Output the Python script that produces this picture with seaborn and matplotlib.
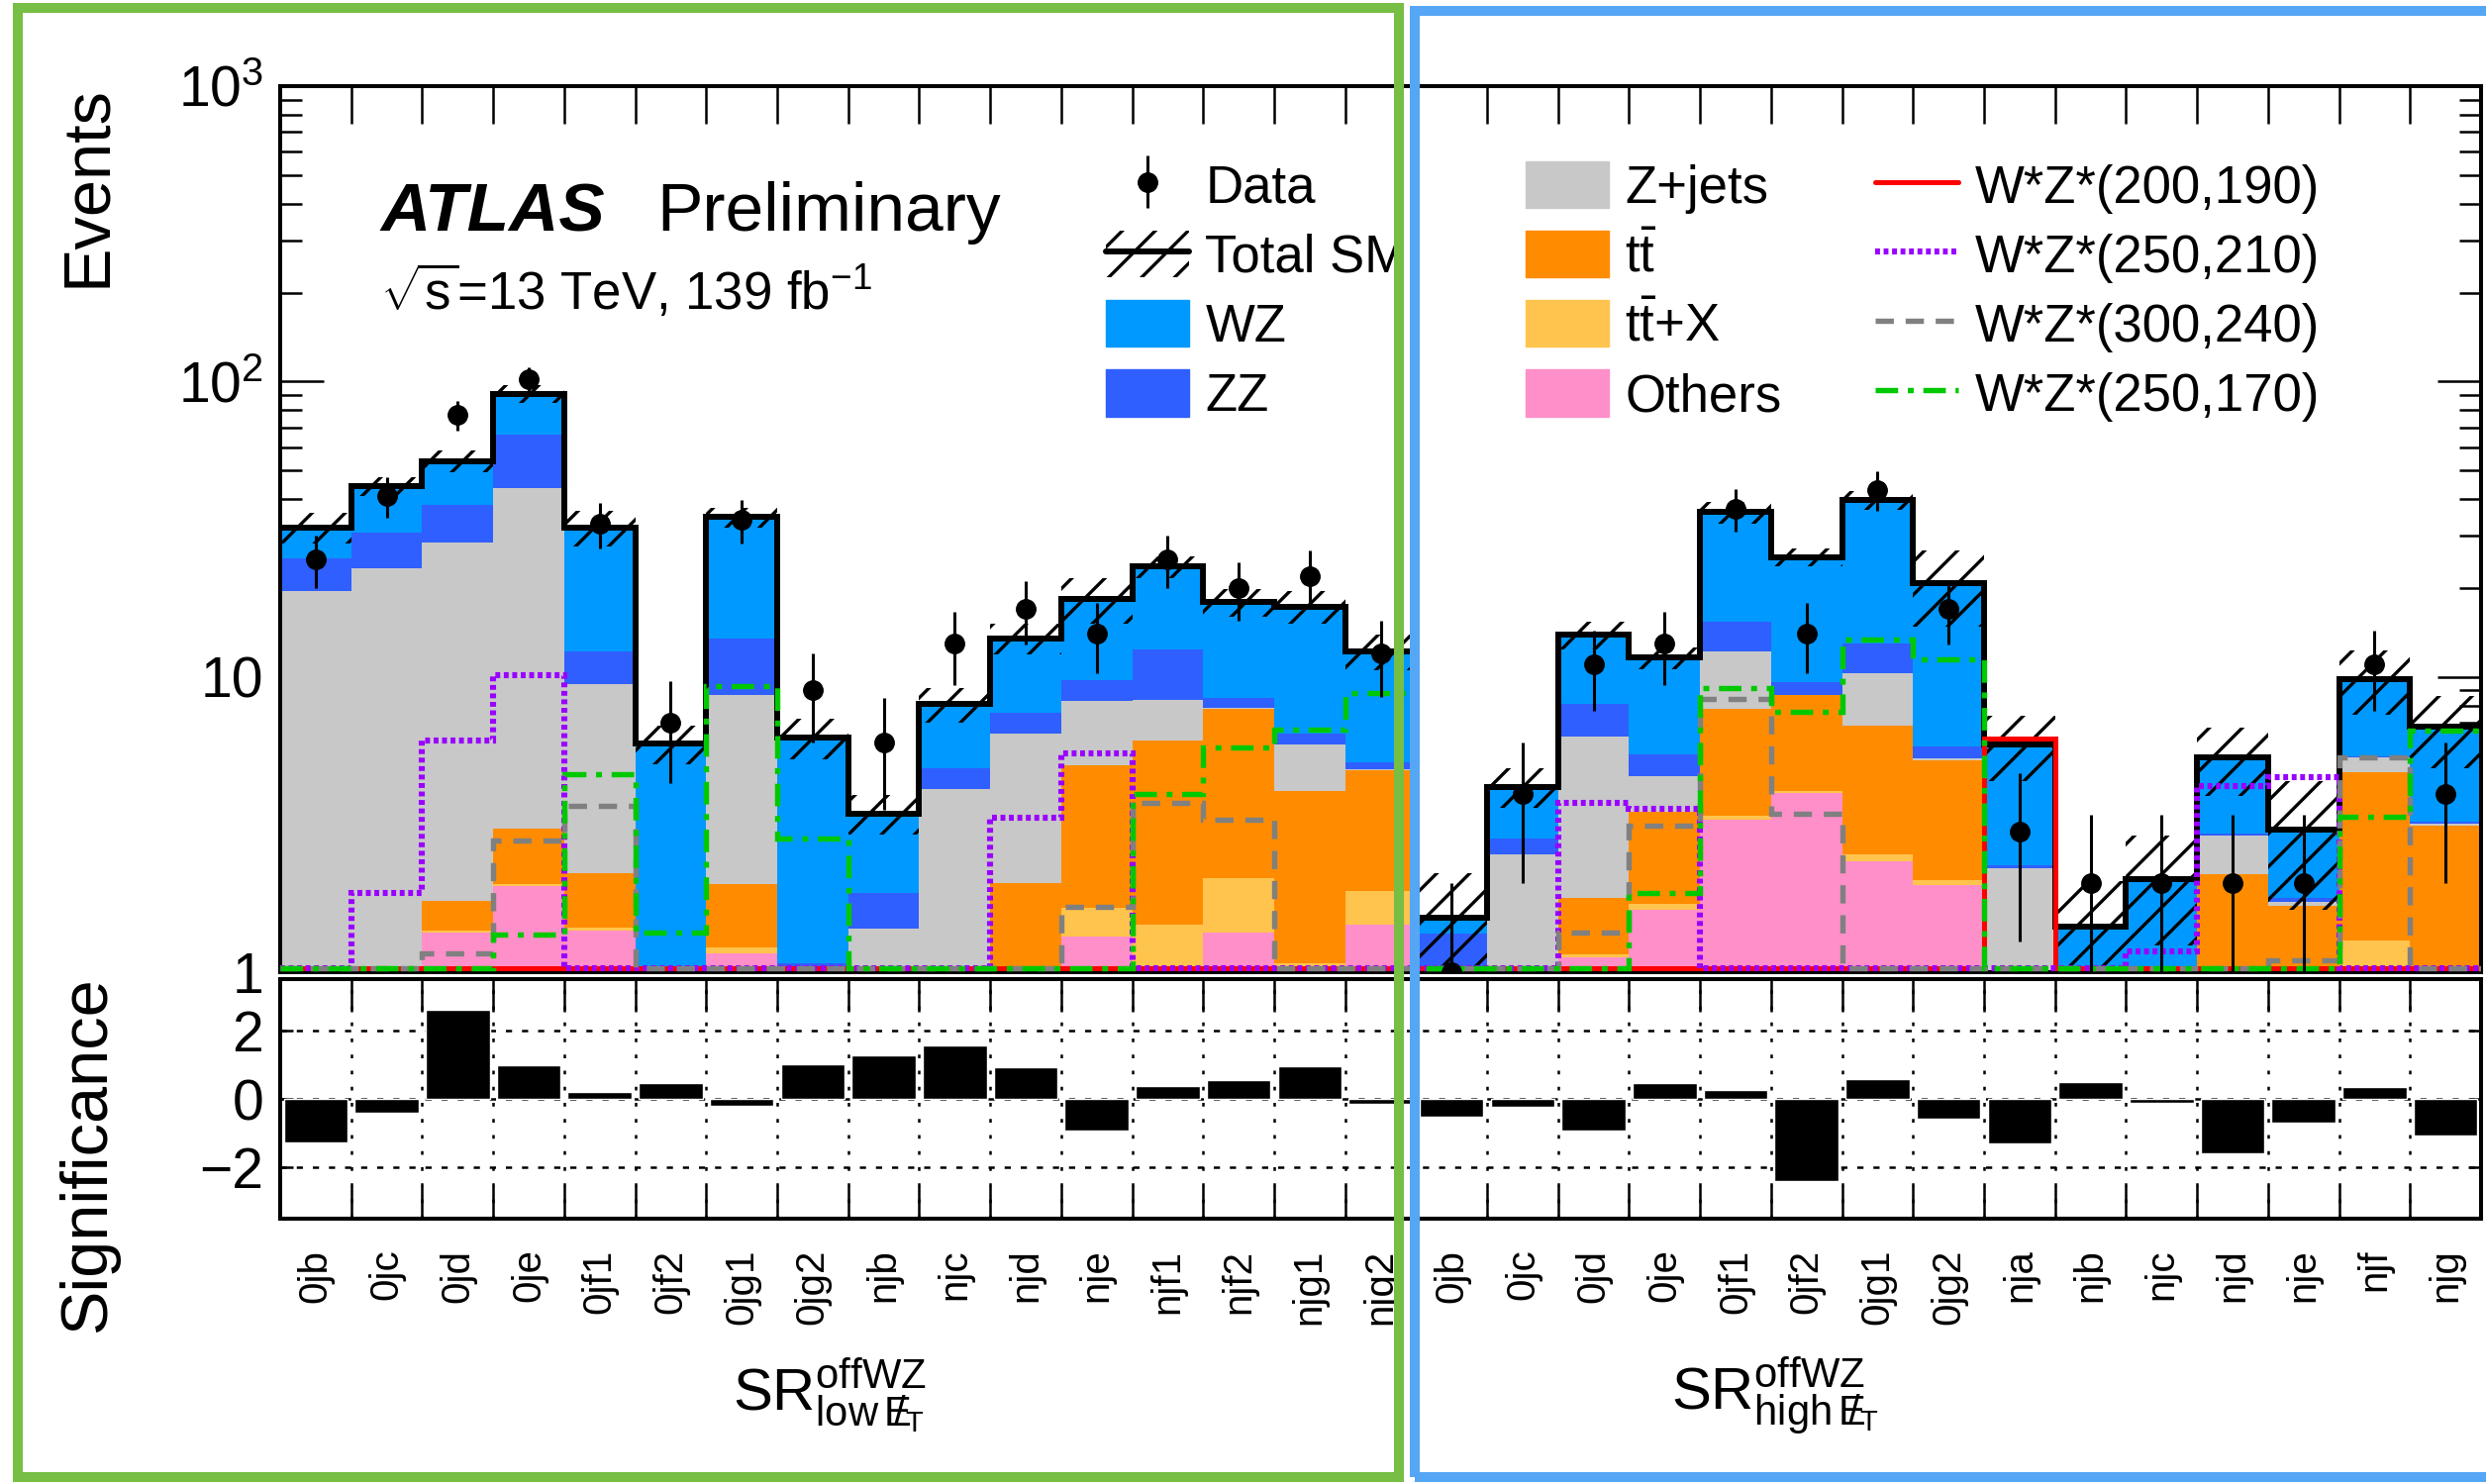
import numpy as np
import pandas as pd
import matplotlib
matplotlib.use("Agg")
import matplotlib.pyplot as plt
import seaborn as sns
from matplotlib.patches import Patch, Rectangle
from matplotlib.lines import Line2D
from matplotlib.ticker import LogLocator, NullLocator, NullFormatter

# ---------------- bins ----------------
low_bins = ["0jb", "0jc", "0jd", "0je", "0jf1", "0jf2", "0jg1", "0jg2",
            "njb", "njc", "njd", "nje", "njf1", "njf2", "njg1", "njg2"]
high_bins = ["0jb", "0jc", "0jd", "0je", "0jf1", "0jf2", "0jg1", "0jg2",
             "nja", "njb", "njc", "njd", "nje", "njf", "njg"]
bin_labels = low_bins + high_bins

# ---------------- SM backgrounds (events per bin) ----------------
wz = [6.8, 13.4, 15.6, 24.5, 19.8, 4.9, 21.2, 5.17, 1.6, 3.17, 5.93, 8.52, 11.2, 9.43, 10.86, 7.08,
      0.18, 1.41, 5.78, 6.14, 20.7, 15.78, 26.8, 14.98, 3.6, 0.66, 1.19, 2.41, 1.25, 4.44, 3.53]
zz = [5.7, 7.4, 9.8, 22.6, 2.73, 0.33, 4.85, 0.4, 0.45, 0.72, 1.13, 1.51, 4.02, 0.61, 0.55, 0.24,
      0.8, 0.34, 1.84, 0.86, 3.2, 0.92, 2.7, 0.54, 0.05, 0.2, 0.2, 0.05, 0.05, 0.05, 0.05]
zjets = [18.8, 22.6, 26.66, 40.64, 7.3, 0.4, 6.67, 0.35, 0.9, 3.38, 4.44, 3.25, 2.3, 0.05, 1.78, 0.05,
         0.3, 2.15, 4.49, 1.12, 4.39, 0.05, 3.47, 0.05, 1.9, 0.3, 0.3, 0.74, 0.05, 0.6, 0.05]
ttbar = [0.3, 0.4, 0.36, 1.08, 0.76, 0.2, 0.77, 0.2, 0.35, 0.5, 1.2, 3.37, 4.63, 5.73, 3.04, 2.94,
         0.1, 0.2, 0.64, 1.78, 4.42, 4.54, 4.33, 3.18, 0.2, 0.2, 0.3, 1.65, 1.38, 3.47, 2.53]
ttx = [0.1, 0.1, 0.02, 0.03, 0.03, 0.02, 0.05, 0.02, 0.05, 0.1, 0.3, 0.33, 0.55, 0.72, 0.12, 0.44,
       0.05, 0.05, 0.03, 0.07, 0.10, 0.06, 0.13, 0.08, 0.05, 0.02, 0.02, 0.2, 0.1, 0.78, 0.3]
others = [0.3, 0.3, 1.36, 1.95, 1.38, 0.1, 1.16, 0.1, 0.1, 0.2, 0.5, 1.32, 0.9, 1.36, 0.95, 1.45,
          0.1, 0.1, 1.12, 1.63, 3.29, 4.05, 2.37, 1.97, 0.1, 0.05, 0.05, 0.3, 0.2, 0.5, 0.3]
sm_unc = [3.8, 3.2, 4.7, 6.1, 4.4, 0.9, 2.7, 1.0, 0.53, 1.1, 1.6, 3.2, 2.0, 1.9, 2.2, 1.7,
          0.64, 0.66, 1.5, 1.0, 3.0, 1.7, 2.9, 6.0, 1.47, 0.6, 0.83, 1.4, 1.4, 2.4, 1.85]

# ---------------- observed data ----------------
data = [25, 41, 77, 102, 33, 7, 34, 9, 6, 13, 17, 14, 25, 20, 22, 12,
        1, 4, 11, 13, 37, 14, 43, 17, 3, 2, 2, 2, 2, 11, 4]

# ---------------- signal benchmarks ----------------
sig_200_190 = [0.5, 0.5, 0.5, 0.5, 0.5, 0.5, 0.5, 0.5, 0.5, 0.5, 0.5, 0.5, 0.5, 0.5, 0.5, 0.5,
               0.5, 0.5, 0.5, 0.5, 0.5, 0.5, 0.5, 0.5, 6.2, 0.5, 0.5, 0.5, 0.5, 0.5, 0.5]
sig_250_210 = [0.5, 1.85, 6.1, 10.1, 0.5, 0.5, 0.5, 0.5, 0.5, 0.5, 3.34, 5.5, 0.5, 0.5, 0.5, 0.5,
               0.5, 0.5, 3.75, 3.56, 0.5, 0.5, 0.5, 0.5, 0.5, 0.5, 1.18, 4.27, 4.56, 0.5, 0.5]
sig_300_240 = [0.5, 0.5, 1.16, 2.8, 3.65, 0.5, 0.5, 0.5, 0.5, 0.5, 0.5, 1.66, 3.73, 3.29, 0.5, 0.5,
               0.5, 0.5, 1.36, 3.14, 8.41, 3.45, 0.5, 0.5, 0.5, 0.5, 0.5, 0.5, 1.1, 5.35, 0.5]
sig_250_170 = [0.5, 0.5, 0.5, 1.34, 4.68, 1.36, 9.3, 2.84, 0.5, 0.5, 0.5, 0.5, 4.01, 5.76, 6.61, 8.8,
               0.5, 0.5, 0.5, 1.86, 9.17, 7.61, 13.4, 11.5, 0.5, 0.5, 0.5, 0.5, 0.5, 3.37, 6.55]

# ---------------- significance of data vs SM ----------------
significance = [-1.26, -0.41, 2.61, 0.97, 0.21, 0.45, -0.19, 1.01, 1.26, 1.55, 0.94, -0.94, 0.39, 0.55, 0.95, -0.15,
                -0.51, -0.22, -0.92, 0.45, 0.26, -2.39, 0.58, -0.58, -1.29, 0.48, -0.13, -1.59, -0.68, 0.34, -1.08]

# ---------------- style ----------------
W, H, DPI = 2511, 1499, 100
sns.set_theme(style="ticks")
plt.rcParams.update({
    "font.family": ["Liberation Sans", "DejaVu Sans"],
    "mathtext.fontset": "custom",
    "mathtext.rm": "Liberation Sans",
    "mathtext.it": "Liberation Sans:italic",
    "mathtext.bf": "Liberation Sans:bold",
    "mathtext.default": "regular",
    "hatch.linewidth": 2.4,
    "axes.edgecolor": "black",
    "axes.linewidth": 2.9,
    "xtick.color": "black",
    "ytick.color": "black",
    "text.color": "black",
    "axes.labelcolor": "black",
    "axes.unicode_minus": True,
})

colors = {"WZ": "#0099FF", "ZZ": "#2F5FFF", "Z+jets": "#C8C8C8",
          "ttbar": "#FF8C00", "ttX": "#FFC44D", "Others": "#FF8FC8"}

fig = plt.figure(figsize=(W / DPI, H / DPI), dpi=DPI)
fig.patch.set_facecolor("white")


def fx(x):
    return x / W


def fy(y):
    return 1 - y / H


ax = fig.add_axes([fx(283), fy(982), fx(2506) - fx(283), fy(87) - fy(982)])
axr = fig.add_axes([fx(283), fy(1231), fx(2506) - fx(283), fy(989) - fy(1231)])

n = len(bin_labels)
centers = np.arange(n)
edges = np.arange(n + 1) - 0.5

# ---------------- stacked backgrounds ----------------
processes = {"WZ": wz, "ZZ": zz, "Z+jets": zjets, "ttbar": ttbar, "ttX": ttx, "Others": others}
df = pd.concat([pd.DataFrame({"bin": centers, "events": vals, "process": name})
                for name, vals in processes.items()], ignore_index=True)
sns.histplot(data=df, x="bin", weights="events", hue="process", hue_order=list(processes),
             multiple="stack", bins=edges.tolist(), element="step", palette=colors,
             alpha=1, linewidth=0, legend=False, ax=ax)

ax.set_yscale("log")
ax.set_ylim(1, 1000)
ax.set_xlim(-0.5, n - 0.5)

total = np.sum([np.array(v) for v in processes.values()], axis=0)
unc = np.array(sm_unc)
ax.bar(centers, 2 * unc, bottom=total - unc, width=1.0, facecolor="none",
       edgecolor="black", hatch="/", linewidth=0, zorder=3)
ax.stairs(total, edges, baseline=None, color="black", linewidth=4.3, zorder=4)

# ---------------- signals ----------------
floor = 1.03
signals = [
    ("W*Z*(200,190)", sig_200_190, "#FF0000", "-", 3.6),
    ("W*Z*(250,210)", sig_250_210, "#9900FF", (0, (0.8, 0.6)), 4.4),
    ("W*Z*(300,240)", sig_300_240, "#808080", (0, (3.4, 2.2)), 3.9),
    ("W*Z*(250,170)", sig_250_170, "#00C800", (0, (4.2, 1.8, 1.1, 1.8)), 3.9),
]
sig_handles = []
for label, vals, col, ls, lw in signals:
    ax.stairs(np.maximum(np.array(vals), floor), edges, baseline=None,
              color=col, linestyle=ls, linewidth=lw, zorder=5)
    sig_handles.append(Line2D([], [], color=col, linestyle=ls, linewidth=lw))

# ---------------- data ----------------
d = np.array(data, dtype=float)
eb = ax.errorbar(centers, d, yerr=np.sqrt(d), fmt="o", color="black", ms=14,
                 elinewidth=2.2, capsize=0, zorder=6)

# ---------------- main axis ticks ----------------
ax.set_xlabel("")
ax.set_ylabel("")
ax.set_xticks(edges)
ax.xaxis.set_minor_locator(NullLocator())
ax.tick_params(axis="x", which="major", direction="in", length=27, width=1.8,
               top=True, bottom=True, labelbottom=False)
ax.set_yticks([1, 10, 100, 1000], labels=["1", "10", r"$10^{2}$", r"$10^{3}$"])
ax.yaxis.set_minor_locator(LogLocator(base=10, subs=np.arange(2, 10)))
ax.yaxis.set_minor_formatter(NullFormatter())
ax.tick_params(axis="y", which="major", direction="in", length=32, width=1.8,
               left=True, right=True, labelsize=41, pad=12)
ax.tick_params(axis="y", which="minor", direction="in", length=16, width=1.8,
               left=True, right=True)
for s in ax.spines.values():
    s.set_linewidth(2.9)

# ---------------- legends ----------------
leg_kw = dict(loc="upper left", bbox_transform=fig.transFigure, frameon=False, fontsize=38,
              handlelength=1.6, handleheight=1.0, handletextpad=0.3, labelspacing=0.33,
              borderpad=0, borderaxespad=0)
h_total = (Patch(facecolor="none", edgecolor="black", hatch="/", linewidth=0),
           Line2D([], [], color="black", linewidth=4.3))
leg_top = 163
leg1 = ax.legend([eb, h_total, Patch(color=colors["WZ"]), Patch(color=colors["ZZ"])],
                 ["Data", "Total SM", "WZ", "ZZ"], bbox_to_anchor=(fx(1117), fy(leg_top)), **leg_kw)
ax.add_artist(leg1)
leg2 = ax.legend([Patch(color=colors["Z+jets"]), Patch(color=colors["ttbar"]),
                  Patch(color=colors["ttX"]), Patch(color=colors["Others"])],
                 ["Z+jets", r"$t\bar{t}$", r"$t\bar{t}$+X", "Others"],
                 bbox_to_anchor=(fx(1541), fy(leg_top)), **leg_kw)
ax.add_artist(leg2)
ax.legend(sig_handles, [s[0] for s in signals], bbox_to_anchor=(fx(1894), fy(leg_top)), **leg_kw)

# ---------------- significance panel ----------------
for yv in (-2, 0, 2):
    axr.axhline(yv, color="black", linestyle=(0, (2.5, 4)), linewidth=1.8, zorder=0.5)
for xv in edges[1:-1]:
    axr.axvline(xv, color="black", linestyle=(0, (1.5, 5)), linewidth=1.8, zorder=0.5)
sns.barplot(x=centers, y=np.array(significance), native_scale=True, width=0.9,
            color="black", saturation=1, errorbar=None, ax=axr, zorder=2)
axr.set_xlim(-0.5, n - 0.5)
axr.set_ylim(-3.5, 3.5)
axr.set_xlabel("")
axr.set_ylabel("")
axr.set_xticks(edges)
axr.set_xticks(centers, labels=bin_labels, minor=True)
axr.tick_params(axis="x", which="major", direction="in", length=24, width=1.8,
                top=True, bottom=True, labelbottom=False)
axr.tick_params(axis="x", which="minor", length=0, labelsize=29, pad=22, labelrotation=90)
axr.set_yticks([-2, 0, 2], labels=["\u22122", "0", "2"])
axr.tick_params(axis="y", which="major", direction="in", length=9, width=1.8,
                left=True, right=True, labelsize=41, pad=12)
axr.yaxis.set_minor_locator(NullLocator())
for s in axr.spines.values():
    s.set_linewidth(2.9)

# ---------------- labels and annotations ----------------
fig.text(fx(58), fy(86), "Events", rotation=90, ha="left", va="top", fontsize=48)
fig.text(fx(58), fy(986), "Significance", rotation=90, ha="left", va="top", fontsize=48)
fig.text(fx(384), fy(233), "ATLAS", fontsize=50, fontweight="bold", fontstyle="italic", va="baseline")
fig.text(fx(663), fy(233), "Preliminary", fontsize=50, va="baseline")
fig.text(fx(384), fy(313), r"$\sqrt{s}$=13 TeV, 139 fb$^{-1}$", fontsize=38, va="baseline")
fig.text(fx(740), fy(1425), r"SR$^{offWZ}_{low\,E\!\!\!/_{T}}$", fontsize=43, va="baseline")
fig.text(fx(1688), fy(1425), r"SR$^{offWZ}_{high\,E\!\!\!/_{T}}$", fontsize=43, va="baseline")

# region frames
fig.add_artist(Rectangle((fx(18), fy(1492)), fx(1413) - fx(18), fy(8) - fy(1492),
                         transform=fig.transFigure, fill=False, edgecolor="#76BE44",
                         linewidth=7.2, zorder=100))
fig.add_artist(Rectangle((fx(1429), fy(1492)), fx(2530) - fx(1429), fy(11) - fy(1492),
                         transform=fig.transFigure, fill=False, edgecolor="#55A6F5",
                         linewidth=7.2, zorder=100))

fig.savefig("out.png", dpi=DPI, facecolor="white")
